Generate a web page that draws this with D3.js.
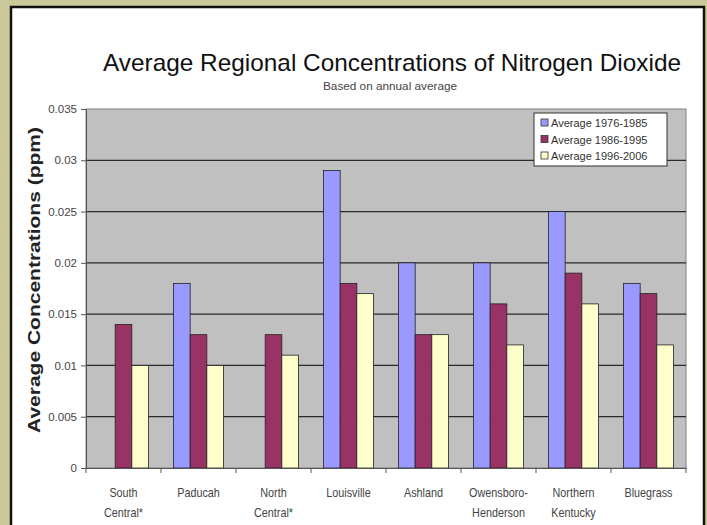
<!DOCTYPE html>
<html>
<head>
<meta charset="utf-8">
<script src="https://cdn.jsdelivr.net/npm/d3@7"></script>
<style>
  body { margin: 0; background: #cbc89a; }
  text { font-family: "Liberation Sans", Arial, sans-serif; }
</style>
</head>
<body>
<div id="okvir"></div>
<script>
// podaci
var regije = [["South", "Central*"], ["Paducah"], ["North", "Central*"], ["Louisville"],
  ["Ashland"], ["Owensboro-", "Henderson"], ["Northern", "Kentucky"], ["Bluegrass"]];
var serije = ["Average 1976-1985", "Average 1986-1995", "Average 1996-2006"];
var avg7685 = [null, 0.018, null, 0.029, 0.020, 0.020, 0.025, 0.018];
var avg8695 = [0.014, 0.013, 0.013, 0.018, 0.013, 0.016, 0.019, 0.017];
var avg9606 = [0.010, 0.010, 0.011, 0.017, 0.013, 0.012, 0.016, 0.012];
var yTicks = [0, 0.005, 0.01, 0.015, 0.02, 0.025, 0.03, 0.035];
var boje = ["#9999ff", "#993366", "#ffffcc"];

var width = 707, height = 525;
var margin = { top: 109, right: 21, bottom: 57, left: 86 };

var svg = d3.select("#okvir").append("svg")
  .attr("width", width).attr("height", height);

// bijeli okvir
svg.append("rect").attr("x", 11).attr("y", 7).attr("width", 693).attr("height", 530)
  .attr("fill", "#fff").attr("stroke", "#111").attr("stroke-width", 2.5);

var kljucevi = regije.map(d => d.join(" "));
var x = d3.scaleBand().domain(kljucevi)
  .range([margin.left, width - margin.right]);
var x1 = d3.scaleBand().domain(d3.range(3))
  .range([0, x.bandwidth()]).paddingInner(0).paddingOuter(0.75);
var y = d3.scaleLinear().domain([0, 0.035])
  .range([height - margin.bottom, margin.top]);

// siva pozadina
svg.append("rect")
  .attr("x", margin.left).attr("y", margin.top)
  .attr("width", width - margin.left - margin.right)
  .attr("height", height - margin.top - margin.bottom)
  .attr("fill", "#c0c0c0").attr("stroke", "#808080");

// mreža
svg.append("g").selectAll("line").data(yTicks.slice(1, -1)).enter().append("line")
  .attr("x1", margin.left).attr("x2", width - margin.right)
  .attr("y1", d => y(d)).attr("y2", d => y(d))
  .attr("stroke", "#2a2a2a").attr("stroke-width", 1.2);

// stupci
var tablica = [];
regije.forEach((r, i) => {
  [avg7685, avg8695, avg9606].forEach((s, j) => {
    if (s[i] != null) tablica.push({ reg: kljucevi[i], s: j, v: s[i] });
  });
});
svg.append("g").selectAll("rect").data(tablica).enter().append("rect")
  .attr("x", d => x(d.reg) + x1(d.s))
  .attr("y", d => y(d.v))
  .attr("width", x1.bandwidth())
  .attr("height", d => y(0) - y(d.v))
  .attr("fill", d => boje[d.s])
  .attr("stroke", "#222").attr("stroke-width", 0.8);

// y os
var yOs = svg.append("g")
  .attr("transform", "translate(" + margin.left + ",0)")
  .call(d3.axisLeft(y).tickValues(yTicks).tickFormat(d => d === 0 ? "0" : String(+d.toFixed(3))).tickSize(5).tickPadding(4));
yOs.select(".domain").attr("stroke", "#555");
yOs.selectAll(".tick line").attr("stroke", "#555");
yOs.selectAll("text").style("font-size", "11.5px").attr("fill", "#444");

// x os
var xOs = svg.append("g")
  .attr("transform", "translate(0," + y(0) + ")")
  .call(d3.axisBottom(x).tickValues([]).tickSizeOuter(0));
xOs.select(".domain").attr("stroke", "#555");
xOs.selectAll(".crtica").data(d3.range(9)).enter().append("line")
  .attr("x1", i => margin.left + i * x.step()).attr("x2", i => margin.left + i * x.step())
  .attr("y1", 0).attr("y2", 5).attr("stroke", "#555");

// oznake kategorija
var oznake = svg.append("g").selectAll("text").data(regije).enter().append("text")
  .attr("x", (d, i) => x(kljucevi[i]) + x.bandwidth() / 2)
  .attr("y", 497)
  .attr("text-anchor", "middle")
  .attr("fill", "#444")
  .style("font-size", "12px")
  .attr("transform", (d, i) => {
    var cx = x(kljucevi[i]) + x.bandwidth() / 2;
    return "translate(" + cx + ",0) scale(0.9,1) translate(" + (-cx) + ",0)";
  });
oznake.selectAll("tspan").data(d => d).enter().append("tspan")
  .attr("x", function () { return this.parentNode.getAttribute("x"); })
  .attr("dy", (d, i) => i === 0 ? 0 : 20)
  .text(d => d);

// naslovi
svg.append("text").attr("x", 392).attr("y", 71).attr("text-anchor", "middle")
  .style("font-size", "24px").attr("fill", "#111")
  .attr("textLength", 578).attr("lengthAdjust", "spacingAndGlyphs")
  .text("Average Regional Concentrations of Nitrogen Dioxide");
svg.append("text").attr("x", 390).attr("y", 90).attr("text-anchor", "middle")
  .style("font-size", "10px").attr("fill", "#444")
  .attr("textLength", 134).attr("lengthAdjust", "spacingAndGlyphs")
  .text("Based on annual average");
svg.append("text")
  .attr("transform", "translate(40,280) rotate(-90)")
  .attr("text-anchor", "middle")
  .style("font-size", "17px").style("font-weight", "bold").attr("fill", "#222")
  .attr("textLength", 306).attr("lengthAdjust", "spacingAndGlyphs")
  .text("Average Concentrations (ppm)");

// legenda
var leg = svg.append("g").attr("transform", "translate(534,113)");
leg.append("rect").attr("width", 133).attr("height", 53)
  .attr("fill", "#fff").attr("stroke", "#333");
var stavke = leg.selectAll("g").data(serije).enter().append("g")
  .attr("transform", (d, i) => "translate(7," + (10 + i * 16.5) + ")");
stavke.append("rect").attr("x", 0).attr("y", -4).attr("width", 7).attr("height", 7)
  .attr("fill", (d, i) => boje[i]).attr("stroke", "#333").attr("stroke-width", 0.8);
stavke.append("text").attr("x", 10).attr("y", 4)
  .style("font-size", "11px").attr("fill", "#333").text(d => d);
</script>
</body>
</html>
